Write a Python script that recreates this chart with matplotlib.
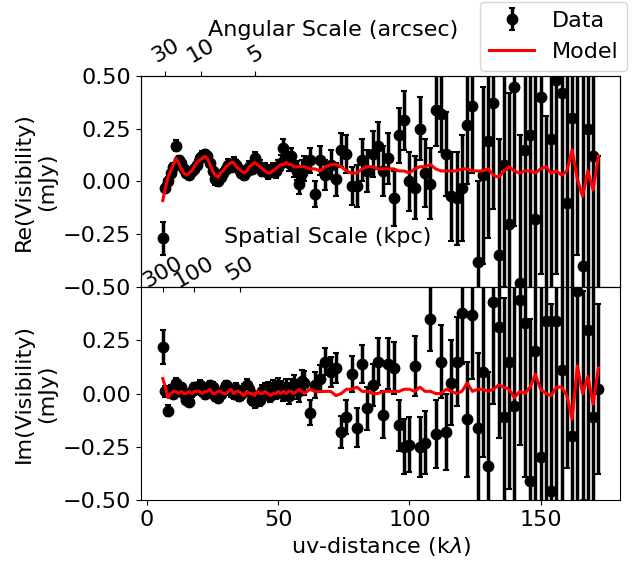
import numpy as np
import matplotlib
matplotlib.use('Agg')
import matplotlib.pyplot as plt

plt.rcParams['font.size'] = 16

# uv-distance bin centres (klambda): 1 klambda bins up to 59, 2 klambda after
uv = [6, 7, 8, 9, 10, 11, 12, 13, 14, 15,
      16, 17, 18, 19, 20, 21, 22, 23, 24, 25,
      26, 27, 28, 29, 30, 31, 32, 33, 34, 35,
      36, 37, 38, 39, 40, 41, 42, 43, 44, 45,
      46, 47, 48, 49, 50, 51, 52, 53, 54, 55,
      56, 57, 58, 59,
      60, 62, 64,
      66, 68, 70, 72, 74, 76, 78, 80, 82, 84,
      86, 88, 90, 92, 94, 96, 98, 100, 102, 104,
      106, 108, 110, 112, 114, 116, 118, 120, 122, 124,
      126, 128, 130, 132, 134, 136, 138, 140, 142, 144,
      146, 148, 150, 152, 154, 156, 158, 160, 162, 164,
      166, 168, 170, 172]

# real part (mJy)
re_data = [-0.27, -0.03, 0.00, 0.04, 0.07, 0.17, 0.10, 0.09, 0.06, 0.04,
           0.03, 0.05, 0.06, 0.08, 0.11, 0.12, 0.13, 0.12, 0.09, 0.05,
           0.01, 0.00, 0.02, 0.04, 0.06, 0.08, 0.07, 0.09, 0.08, 0.06,
           0.04, 0.03, 0.05, 0.07, 0.06, 0.11, 0.08, 0.07, 0.05, 0.06,
           0.04, 0.05, 0.06, 0.05, 0.07, 0.09, 0.16, 0.11, 0.09, 0.12,
           0.07, 0.05, -0.01, 0.04,
           0.06, 0.10, -0.06,
           0.10, 0.03, 0.08, 0.01, 0.15, 0.13, -0.02, -0.02, 0.10, 0.05,
           0.13, 0.17, 0.05, 0.11, -0.08, 0.22, 0.29, 0.00, -0.03, 0.25,
           0.04, -0.01, 0.34, 0.32, 0.13, -0.07, -0.08, -0.03, 0.27, 0.36,
           -0.38, 0.03, 0.19, 0.37, -0.35, 0.08, -0.20, 0.45, -0.48, 0.15,
           0.22, -0.18, 0.40, -0.55, 0.20, 0.48, 0.42, -0.10, 0.30, 0.65,
           -0.40, 0.25, 0.12, -0.62]

re_err = [0.08, 0.02, 0.02, 0.02, 0.02, 0.025, 0.02, 0.02, 0.02, 0.02,
          0.02, 0.02, 0.02, 0.02, 0.02, 0.025, 0.02, 0.02, 0.02, 0.02,
          0.025, 0.02, 0.025, 0.02, 0.02, 0.025, 0.02, 0.025, 0.02, 0.025,
          0.025, 0.025, 0.02, 0.025, 0.025, 0.03, 0.025, 0.03, 0.025, 0.03,
          0.03, 0.03, 0.03, 0.035, 0.03, 0.035, 0.04, 0.035, 0.04, 0.04,
          0.05, 0.045, 0.05, 0.06,
          0.06, 0.06, 0.06,
          0.07, 0.07, 0.07, 0.08, 0.08, 0.09, 0.09, 0.10, 0.10, 0.10,
          0.11, 0.11, 0.12, 0.12, 0.13, 0.13, 0.14, 0.14, 0.15, 0.15,
          0.16, 0.17, 0.17, 0.18, 0.20, 0.21, 0.22, 0.25, 0.28, 0.32,
          0.38, 0.42, 0.46, 0.50, 0.55, 0.58, 0.62, 0.66, 0.70, 0.74,
          0.78, 0.80, 0.84, 0.86, 0.90, 0.92, 0.95, 0.95, 0.98, 1.00,
          1.00, 1.00, 0.95, 0.74]

re_model = [-0.09, -0.03, 0.02, 0.05, 0.08, 0.11, 0.09, 0.06, 0.04, 0.03,
            0.04, 0.05, 0.07, 0.09, 0.10, 0.11, 0.12, 0.11, 0.08, 0.05,
            0.03, 0.02, 0.04, 0.05, 0.07, 0.08, 0.09, 0.09, 0.07, 0.06,
            0.05, 0.04, 0.05, 0.07, 0.08, 0.09, 0.08, 0.07, 0.06, 0.05,
            0.04, 0.04, 0.05, 0.06, 0.07, 0.08, 0.08, 0.09, 0.08, 0.08,
            0.07, 0.07, 0.07, 0.07,
            0.07, 0.06, 0.06,
            0.05, 0.07, 0.08, 0.08, 0.07, 0.05, 0.04, 0.04, 0.06, 0.07,
            0.07, 0.06, 0.06, 0.06, 0.06, 0.05, 0.05, 0.04, 0.06, 0.07,
            0.07, 0.08, 0.06, 0.05, 0.05, 0.05, 0.05, 0.06, 0.06, 0.05,
            0.05, 0.05, 0.06, 0.03, 0.02, 0.05, 0.07, 0.05, 0.04, 0.05,
            0.05, 0.04, 0.06, 0.07, 0.04, 0.05, 0.03, 0.05, 0.15, 0.01,
            -0.07, 0.05, -0.04, 0.12]

# imaginary part (mJy)
im_data = [0.22, 0.01, -0.08, 0.02, 0.00, 0.05, 0.02, 0.03, 0.00, -0.03,
           -0.04, 0.01, 0.03, 0.02, 0.04, 0.01, 0.00, 0.02, 0.04, 0.03,
           -0.01, -0.02, 0.00, 0.01, 0.04, 0.03, 0.01, 0.00, 0.02, -0.01,
           0.00, 0.02, 0.04, 0.02, -0.03, -0.04, -0.02, -0.03, 0.01, 0.02,
           0.02, -0.01, 0.03, 0.01, 0.04, 0.02, 0.00, 0.03, -0.01, 0.03,
           0.04, 0.02, 0.01, 0.06,
           0.05, -0.09, 0.04,
           0.07, 0.15, 0.10, 0.12, -0.18, -0.11, 0.09, -0.16, 0.14, -0.07,
           0.04, 0.15, -0.10, 0.14, 0.12, -0.15, -0.25, -0.24, 0.13, -0.25,
           -0.23, 0.35, -0.19, 0.15, -0.18, 0.05, 0.15, 0.38, -0.12, 0.37,
           -0.16, 0.10, -0.34, 0.43, 0.31, -0.11, 0.15, -0.06, 0.44, 0.33,
           -0.41, 0.20, -0.30, 0.34, -0.46, 0.34, 0.11, 0.60, -0.20, 0.48,
           -0.52, 0.30, -0.11, 0.02]

im_err = [0.08, 0.025, 0.025, 0.02, 0.02, 0.025, 0.02, 0.02, 0.025, 0.02,
          0.02, 0.025, 0.02, 0.02, 0.025, 0.02, 0.025, 0.02, 0.02, 0.025,
          0.025, 0.02, 0.025, 0.025, 0.02, 0.025, 0.025, 0.025, 0.03, 0.025,
          0.03, 0.025, 0.03, 0.03, 0.025, 0.03, 0.03, 0.03, 0.03, 0.03,
          0.035, 0.03, 0.035, 0.035, 0.035, 0.04, 0.035, 0.04, 0.04, 0.04,
          0.045, 0.045, 0.05, 0.05,
          0.055, 0.06, 0.06,
          0.065, 0.065, 0.07, 0.07, 0.075, 0.08, 0.085, 0.09, 0.09, 0.10,
          0.10, 0.11, 0.11, 0.12, 0.12, 0.12, 0.13, 0.13, 0.14, 0.14,
          0.15, 0.15, 0.16, 0.17, 0.18, 0.20, 0.21, 0.24, 0.27, 0.30,
          0.35, 0.40, 0.44, 0.48, 0.52, 0.56, 0.60, 0.64, 0.68, 0.72,
          0.76, 0.80, 0.82, 0.86, 0.88, 0.90, 0.92, 0.95, 0.96, 1.00,
          1.00, 1.00, 0.95, 0.40]

im_model = [0.07, 0.03, -0.02, 0.00, 0.01, 0.01, 0.00, 0.01, 0.00, 0.00,
            0.01, 0.00, 0.01, 0.01, 0.01, 0.00, 0.01, 0.01, 0.02, 0.00,
            0.00, 0.01, 0.01, 0.00, 0.00, 0.01, 0.02, 0.00, 0.01, 0.01,
            0.00, -0.01, 0.01, 0.00, 0.00, -0.01, 0.01, 0.00, 0.00, 0.01,
            0.00, -0.01, 0.00, 0.00, 0.01, 0.00, 0.01, 0.00, 0.01, 0.01,
            0.00, 0.01, 0.02, 0.01,
            0.00, 0.02, 0.01,
            0.01, 0.01, 0.01, -0.01, 0.00, 0.02, 0.02, 0.03, 0.01, 0.01,
            0.00, 0.00, 0.01, 0.01, 0.01, 0.01, 0.02, 0.02, 0.01, 0.03,
            0.01, 0.01, 0.00, 0.00, 0.02, 0.01, 0.00, 0.01, 0.05, 0.01,
            0.02, 0.02, 0.01, 0.02, 0.04, 0.03, 0.02, -0.02, 0.01, 0.00,
            0.03, 0.09, 0.02, 0.00, -0.01, 0.03, 0.03, -0.01, -0.12, 0.13,
            0.00, 0.08, -0.05, 0.12]

# secondary scales
arcsec_ticks = [30, 10, 5]
kpc_ticks = [300, 100, 50]
kpc_per_arcsec = 8.6

def arcsec_to_uv(a):
    return 206.265 / np.asarray(a, dtype=float)

fig = plt.figure(figsize=(6.38, 5.62), dpi=100)
ax1 = fig.add_axes([0.221, 0.4893, 0.751, 0.3755])
ax2 = fig.add_axes([0.221, 0.1103, 0.751, 0.379], sharex=ax1)

ebkw = dict(fmt='o', color='k', ms=7.5, elinewidth=2.5, capsize=2.5, capthick=1.5)
data_h = ax1.errorbar(uv, re_data, yerr=re_err, **ebkw)
model_h, = ax1.plot(uv, re_model, color='red', lw=2.2, zorder=3)
ax2.errorbar(uv, im_data, yerr=im_err, **ebkw)
ax2.plot(uv, im_model, color='red', lw=2.2, zorder=3)

xlim = (-2.3, 180.3)
ax1.set_xlim(xlim)
ax1.set_ylim(-0.5, 0.5)
ax2.set_ylim(-0.5, 0.5)
ax1.set_yticks([-0.5, -0.25, 0.0, 0.25, 0.5])
ax2.set_yticks([-0.5, -0.25, 0.0, 0.25])
ax1.tick_params(axis='x', labelbottom=False)
ax2.set_xticks([0, 50, 100, 150])

ax1.set_ylabel('Re(Visibility)\n(mJy)')
ax2.set_ylabel('Im(Visibility)\n(mJy)')
ax2.set_xlabel(r'uv-distance (k$\lambda$)')

# angular scale on top
ax_ang = ax1.twiny()
ax_ang.set_xlim(xlim)
ax_ang.set_xticks(arcsec_to_uv(arcsec_ticks))
ax_ang.set_xticklabels([str(t) for t in arcsec_ticks], rotation=30)
ax_ang.set_xlabel('Angular Scale (arcsec)')
ax_ang.xaxis.set_label_coords(0.40, 1.19)

# spatial scale drawn inside the top panel
ax_kpc = ax1.twiny()
ax_kpc.set_xlim(xlim)
ax_kpc.xaxis.set_ticks_position('bottom')
ax_kpc.xaxis.set_label_position('bottom')
ax_kpc.set_xticks(arcsec_to_uv(np.array(kpc_ticks) / kpc_per_arcsec))
ax_kpc.set_xticklabels([str(t) for t in kpc_ticks], rotation=30)
ax_kpc.tick_params(axis='x', pad=-28)
for s in ax_kpc.spines.values():
    s.set_visible(False)
ax_kpc.set_xlabel('Spatial Scale (kpc)')
ax_kpc.xaxis.set_label_coords(0.39, 0.284)
ax_kpc.xaxis.label.set_va('top')

fig.legend([data_h, model_h], ['Data', 'Model'], loc='upper right',
           bbox_to_anchor=(0.983, 0.997), borderaxespad=0)

fig.savefig('out.png', dpi=100)
